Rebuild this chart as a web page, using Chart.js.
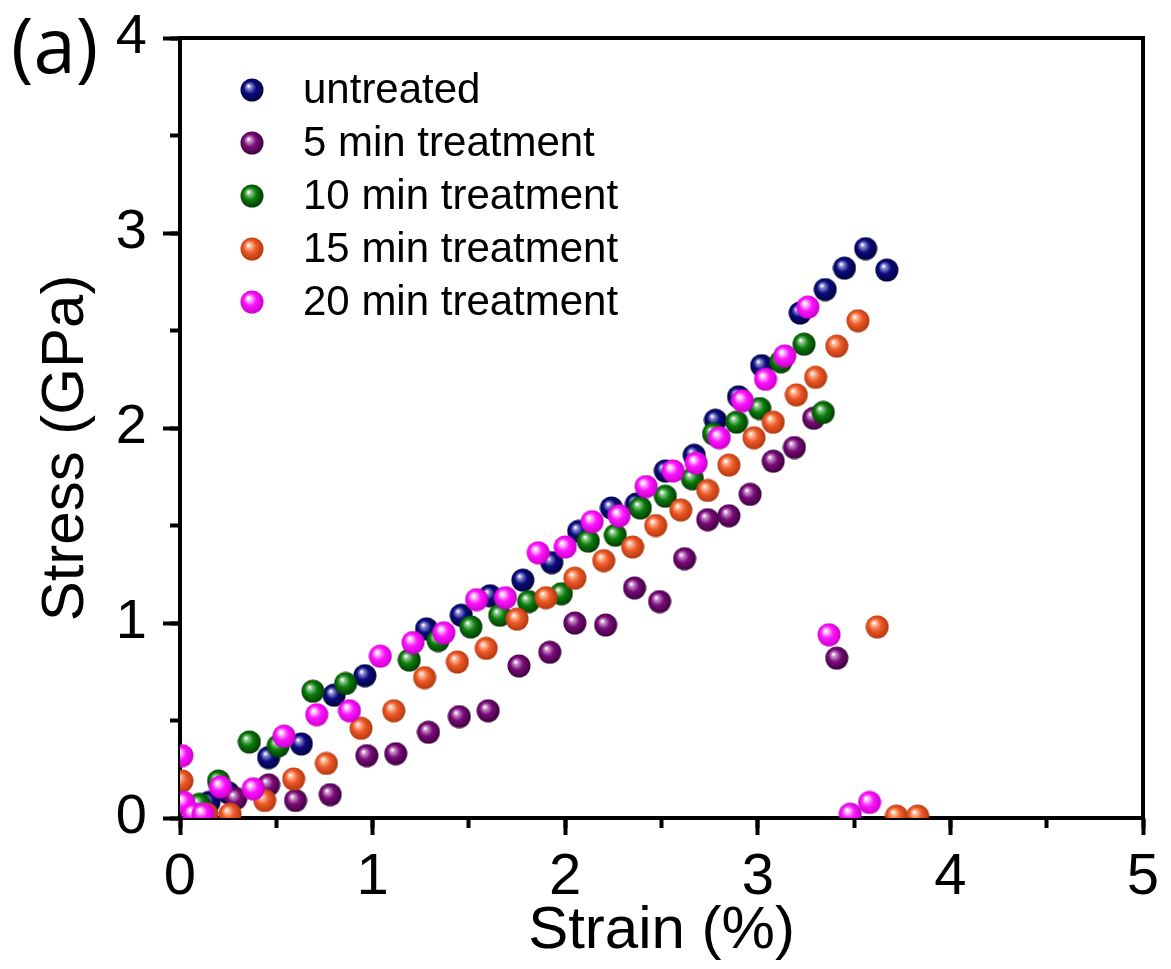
<!DOCTYPE html>
<html>
<head>
<meta charset="utf-8">
<script src="https://cdn.jsdelivr.net/npm/chart.js@4"></script>
<style>
  html, body { margin: 0; padding: 0; background: #fff; }
  #wrap { width: 1171px; height: 969px; position: relative; }
</style>
</head>
<body>
<div id="wrap"><canvas id="stressChart"></canvas></div>
<script>
// strain (%) and stress (GPa) for each treatment time
const untreatedStrain = [0.15, 0.25, 0.46, 0.63, 0.80, 0.96, 1.28, 1.46, 1.61, 1.78, 1.93, 2.07, 2.24, 2.37, 2.52, 2.67, 2.78, 2.90, 3.02, 3.22, 3.35, 3.45, 3.56, 3.67]
const untreatedStress = [0.08, 0.13, 0.31, 0.38, 0.63, 0.73, 0.97, 1.04, 1.14, 1.22, 1.31, 1.47, 1.59, 1.61, 1.78, 1.86, 2.04, 2.16, 2.32, 2.59, 2.71, 2.82, 2.92, 2.81]

const min5Strain = [0.29, 0.46, 0.60, 0.78, 0.97, 1.12, 1.29, 1.45, 1.60, 1.76, 1.92, 2.05, 2.21, 2.36, 2.49, 2.62, 2.74, 2.85, 2.96, 3.08, 3.19, 3.29, 3.41]
const min5Stress = [0.10, 0.17, 0.09, 0.12, 0.32, 0.33, 0.44, 0.52, 0.55, 0.78, 0.85, 1.00, 0.99, 1.18, 1.11, 1.33, 1.53, 1.55, 1.66, 1.83, 1.90, 2.05, 0.82]

const min10Strain = [0.10, 0.20, 0.36, 0.51, 0.69, 0.86, 1.19, 1.34, 1.51, 1.66, 1.81, 1.98, 2.12, 2.26, 2.39, 2.52, 2.66, 2.77, 2.89, 3.01, 3.12, 3.24, 3.34]
const min10Stress = [0.07, 0.19, 0.39, 0.37, 0.65, 0.69, 0.81, 0.91, 0.98, 1.04, 1.11, 1.15, 1.42, 1.45, 1.59, 1.65, 1.74, 1.97, 2.03, 2.10, 2.34, 2.43, 2.08]

const min15Strain = [0.01, 0.14, 0.26, 0.44, 0.59, 0.76, 0.94, 1.11, 1.27, 1.44, 1.59, 1.75, 1.90, 2.05, 2.20, 2.35, 2.47, 2.60, 2.74, 2.85, 2.98, 3.08, 3.20, 3.30, 3.41, 3.52, 3.62, 3.72, 3.83]
const min15Stress = [0.19, 0.02, 0.02, 0.09, 0.20, 0.28, 0.46, 0.55, 0.72, 0.80, 0.87, 1.02, 1.13, 1.23, 1.32, 1.39, 1.50, 1.58, 1.68, 1.81, 1.95, 2.03, 2.17, 2.26, 2.42, 2.55, 0.98, 0.01, 0.01]

const min20Strain = [0.01, 0.02, 0.07, 0.12, 0.21, 0.38, 0.54, 0.71, 0.88, 1.04, 1.21, 1.37, 1.54, 1.69, 1.86, 2.00, 2.14, 2.28, 2.42, 2.56, 2.68, 2.80, 2.92, 3.04, 3.14, 3.26, 3.37, 3.48, 3.58]
const min20Stress = [0.32, 0.08, 0.02, 0.02, 0.16, 0.15, 0.42, 0.53, 0.55, 0.83, 0.90, 0.95, 1.12, 1.13, 1.36, 1.39, 1.52, 1.55, 1.70, 1.78, 1.82, 1.95, 2.14, 2.25, 2.37, 2.62, 0.94, 0.02, 0.08]

const seriesLabels = ["untreated", "5 min treatment", "10 min treatment", "15 min treatment", "20 min treatment"]
const xTicks = [0, 1, 2, 3, 4, 5]
const yTicks = [0, 1, 2, 3, 4]

const FONT = '"Liberation Sans", Arial, Helvetica, sans-serif'
Chart.defaults.font.family = FONT
Chart.defaults.color = "#000"

// shaded ball used as the point marker
function makeBall(base, light, dark) {
  const c = document.createElement("canvas")
  c.width = 24
  c.height = 24
  const g = c.getContext("2d")
  const grad = g.createRadialGradient(8.5, 8, 0.5, 11.5, 11.5, 12)
  grad.addColorStop(0, "#ffffff")
  grad.addColorStop(0.16, light)
  grad.addColorStop(0.5, base)
  grad.addColorStop(1, dark)
  g.fillStyle = grad
  g.beginPath()
  g.arc(12, 12, 11.5, 0, Math.PI * 2)
  g.fill()
  return c
}

const balls = [
  makeBall("#0a0a80", "#8c8cd0", "#04043c"),
  makeBall("#7c0a7c", "#c890c8", "#3c043c"),
  makeBall("#0b7d0b", "#90c890", "#043c04"),
  makeBall("#ee5a28", "#ffb898", "#b43810"),
  makeBall("#ff14ff", "#ffc0ff", "#cc00cc")
]

function toPoints(xs, ys) {
  return xs.map((x, i) => ({ x: x, y: ys[i] }))
}

const series = [
  toPoints(untreatedStrain, untreatedStress),
  toPoints(min5Strain, min5Stress),
  toPoints(min10Strain, min10Stress),
  toPoints(min15Strain, min15Stress),
  toPoints(min20Strain, min20Stress)
]

const datasets = series.map((pts, i) => ({
  label: seriesLabels[i],
  data: pts,
  pointStyle: balls[i],
  order: series.length - i,
  showLine: false
}))

// legend inside the plot, plus the panel letter
const insetLegend = {
  id: "insetLegend",
  afterLayout(chart) {
    // nudge the y title a little below the middle of the axis
    const t = chart.scales.yLabel
    t.top += 20
    t.bottom += 20
  },
  afterDraw(chart) {
    const ctx = chart.ctx
    const area = chart.chartArea
    ctx.save()
    ctx.fillStyle = "#000"
    ctx.textBaseline = "middle"
    ctx.font = "42px " + FONT
    chart.data.datasets.forEach((ds, i) => {
      const y = area.top + 52 + i * 53
      ctx.drawImage(ds.pointStyle, area.left + 60, y - 12)
      ctx.fillText(ds.label, area.left + 123, y + 1)
    })
    ctx.font = '76px "Open Sans", "DejaVu Sans", sans-serif'
    ctx.textBaseline = "alphabetic"
    ctx.fillText("(a)", 11, 73)
    ctx.restore()
  }
}

const tickGrid = (len) => ({
  display: true,
  drawOnChartArea: false,
  tickLength: len,
  tickWidth: 4,
  tickColor: "#000"
})

const frameOnly = {
  ticks: { display: false },
  grid: { display: false },
  border: { display: true, width: 4, color: "#000" }
}

function noPad(s) {
  s.paddingTop = 0
  s.paddingBottom = 0
  s.paddingLeft = 0
  s.paddingRight = 0
}

new Chart(document.getElementById("stressChart"), {
  type: "scatter",
  data: { datasets: datasets },
  options: {
    responsive: true,
    maintainAspectRatio: false,
    animation: false,
    layout: { padding: { top: 38, right: 28, left: 0, bottom: 0 } },
    plugins: {
      legend: { display: false },
      tooltip: { enabled: false }
    },
    scales: {
      x: {
        type: "linear",
        position: "bottom",
        min: xTicks[0],
        max: xTicks[xTicks.length - 1],
        z: 1,
        afterBuildTicks: (s) => { s.ticks = xTicks.map((v) => ({ value: v })) },
        ticks: { font: { size: 58 }, padding: 8, color: "#000" },
        grid: tickGrid(17),
        border: { display: true, width: 4, color: "#000" },
        title: { display: true, text: "Strain (%)", font: { size: 60 }, color: "#000", padding: { top: 0, bottom: 2 } },
        afterFit: (s) => { s.height = 151; noPad(s) }
      },
      xMinor: {
        type: "linear",
        position: { y: 0 },
        min: 0,
        max: 5,
        z: 1,
        ticks: { display: false, stepSize: 0.5 },
        grid: tickGrid(10),
        border: { display: false },
        afterFit: (s) => { s.height = 0; noPad(s) }
      },
      xTop: Object.assign({ type: "linear", position: "top", min: 0, max: 5, z: 1, afterFit: (s) => { s.height = 0; noPad(s) } }, frameOnly),
      y: {
        type: "linear",
        position: "left",
        min: yTicks[0],
        max: yTicks[yTicks.length - 1],
        z: 1,
        weight: 0,
        afterBuildTicks: (s) => { s.ticks = yTicks.map((v) => ({ value: v })) },
        ticks: { font: { size: 56 }, padding: 16, color: "#000" },
        grid: tickGrid(17),
        border: { display: true, width: 4, color: "#000" },
        afterFit: (s) => { s.width = 180; noPad(s) }
      },
      yLabel: {
        type: "linear",
        position: "left",
        min: 0,
        max: 4,
        weight: 1,
        ticks: { display: false },
        grid: { display: false },
        border: { display: false },
        title: { display: true, text: "Stress (GPa)", font: { size: 60 }, color: "#000", padding: { top: 30, bottom: 0 } },
        afterFit: (s) => { s.width = 0; noPad(s) }
      },
      yMinor: {
        type: "linear",
        position: { x: 0 },
        min: 0,
        max: 4,
        z: 1,
        ticks: { display: false, stepSize: 0.5 },
        grid: tickGrid(10),
        border: { display: false },
        afterFit: (s) => { s.width = 0; noPad(s) }
      },
      yRight: Object.assign({ type: "linear", position: "right", min: 0, max: 4, z: 1, afterFit: (s) => { s.width = 0; noPad(s) } }, frameOnly)
    }
  },
  plugins: [insetLegend]
})
</script>
</body>
</html>
